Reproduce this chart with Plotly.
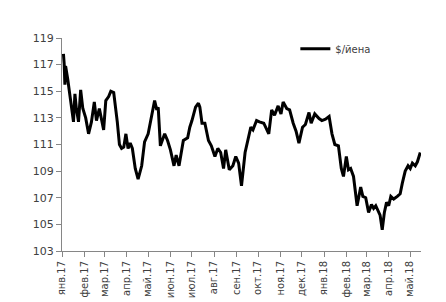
import plotly.graph_objects as go

dates = [
    "2017-01-03", "2017-01-04", "2017-01-05", "2017-01-06", "2017-01-09", "2017-01-12",
    "2017-01-17", "2017-01-19", "2017-01-21", "2017-01-24", "2017-01-27", "2017-01-30",
    "2017-02-03", "2017-02-07", "2017-02-11", "2017-02-15", "2017-02-18", "2017-02-22",
    "2017-02-28", "2017-03-03", "2017-03-07", "2017-03-10", "2017-03-14", "2017-03-19",
    "2017-03-22", "2017-03-25", "2017-03-28", "2017-03-31", "2017-04-03", "2017-04-06",
    "2017-04-09", "2017-04-13", "2017-04-17", "2017-04-22", "2017-04-26", "2017-05-01",
    "2017-05-05", "2017-05-10", "2017-05-13", "2017-05-15", "2017-05-18", "2017-05-24",
    "2017-05-28", "2017-06-01", "2017-06-06", "2017-06-09", "2017-06-13", "2017-06-19",
    "2017-06-25", "2017-06-28", "2017-07-01", "2017-07-06", "2017-07-10", "2017-07-12",
    "2017-07-15", "2017-07-19", "2017-07-24", "2017-07-28", "2017-08-02", "2017-08-06",
    "2017-08-10", "2017-08-14", "2017-08-17", "2017-08-22", "2017-08-27", "2017-08-31",
    "2017-09-04", "2017-09-08", "2017-09-13", "2017-09-17", "2017-09-21", "2017-09-24",
    "2017-09-29", "2017-10-03", "2017-10-09", "2017-10-16", "2017-10-20", "2017-10-24",
    "2017-10-29", "2017-11-02", "2017-11-05", "2017-11-10", "2017-11-14", "2017-11-19",
    "2017-11-23", "2017-11-27", "2017-12-02", "2017-12-06", "2017-12-11", "2017-12-14",
    "2017-12-19", "2017-12-25", "2017-12-29", "2018-01-03", "2018-01-08", "2018-01-12",
    "2018-01-16", "2018-01-21", "2018-01-25", "2018-01-28", "2018-02-01", "2018-02-04",
    "2018-02-07", "2018-02-11", "2018-02-16", "2018-02-21", "2018-02-24", "2018-02-28",
    "2018-03-04", "2018-03-08", "2018-03-11", "2018-03-14", "2018-03-18", "2018-03-20",
    "2018-03-23", "2018-03-26", "2018-03-29", "2018-04-01", "2018-04-04", "2018-04-08",
    "2018-04-13", "2018-04-17", "2018-04-20", "2018-04-24", "2018-04-28", "2018-05-01",
    "2018-05-04", "2018-05-08", "2018-05-11", "2018-05-15",
]
usd_jpy = [
    117.8, 117.1, 115.5, 116.9, 115.9, 114.6,
    112.7, 114.8, 113.7, 112.7, 115.1, 113.7,
    113.0, 111.8, 112.7, 114.2, 112.8, 113.7,
    112.1, 114.3, 114.6, 115.0, 114.9, 112.7,
    111.0, 110.7, 110.8, 111.8, 110.7, 111.1,
    110.7, 109.2, 108.4, 109.4, 111.2, 111.8,
    112.8, 114.3, 113.6, 113.8, 110.9, 111.8,
    111.3, 110.6, 109.4, 110.2, 109.4, 111.3,
    111.5, 112.3, 112.8, 113.8, 114.1, 113.8,
    112.6, 112.6, 111.3, 110.9, 110.1, 110.7,
    110.4, 109.2, 110.6, 109.1, 109.4, 110.1,
    109.6, 107.9, 110.4, 111.3, 112.3, 112.1,
    112.8, 112.7, 112.6, 111.8, 113.6, 113.2,
    113.9, 113.3, 114.2, 113.7, 113.6, 112.6,
    112.0, 111.1, 112.3, 112.5, 113.4, 112.6,
    113.3, 112.95, 112.8, 112.9, 113.1, 111.8,
    111.0, 110.9, 109.2, 108.6, 110.1, 109.1,
    109.2, 108.6, 106.4, 107.8, 107.1, 107.0,
    105.9, 106.5, 106.2, 106.4, 105.9, 105.7,
    104.6, 105.9, 106.65, 106.4, 107.1, 106.9,
    107.1, 107.3, 108.1, 109.0, 109.4, 109.2,
    109.6, 109.4, 109.7, 110.4,
]

tick_dates = [
    "2017-01-01", "2017-02-01", "2017-03-01", "2017-04-01", "2017-05-01", "2017-06-01",
    "2017-07-01", "2017-08-01", "2017-09-01", "2017-10-01", "2017-11-01", "2017-12-01",
    "2018-01-01", "2018-02-01", "2018-03-01", "2018-04-01", "2018-05-01",
]
tick_labels = [
    "янв.17", "фев.17", "мар.17", "апр.17", "май.17", "июн.17",
    "июл.17", "авг.17", "сен.17", "окт.17", "ноя.17", "дек.17",
    "янв.18", "фев.18", "мар.18", "апр.18", "май.18",
]
y_ticks = [103, 105, 107, 109, 111, 113, 115, 117, 119]

fig = go.Figure()
fig.add_trace(go.Scatter(
    x=dates, y=usd_jpy, mode="lines", name="$/йена",
    line=dict(color="black", width=3),
))

axis_color = "#868686"
font_color = "#404040"

fig.update_layout(
    width=446, height=302,
    margin=dict(l=54, r=33, t=30, b=54),
    paper_bgcolor="white", plot_bgcolor="white",
    font=dict(family="DejaVu Sans", size=10, color=font_color),
    showlegend=True,
    legend=dict(
        x=0.65, y=0.95, xanchor="left", yanchor="middle",
        bgcolor="rgba(0,0,0,0)", font=dict(size=10, color=font_color),
        itemwidth=30,
    ),
    xaxis=dict(
        type="date",
        range=["2017-01-01", "2018-05-16"],
        tickvals=tick_dates, ticktext=tick_labels, tickangle=-90,
        ticks="outside", ticklen=5, tickcolor=axis_color,
        showline=True, linecolor=axis_color, linewidth=1,
        showgrid=False, zeroline=False,
        tickfont=dict(size=10, color=font_color),
    ),
    yaxis=dict(
        range=[103, 119],
        tickvals=y_ticks,
        ticks="outside", ticklen=5, tickcolor=axis_color,
        showline=True, linecolor=axis_color, linewidth=1,
        showgrid=False, zeroline=False,
        tickfont=dict(size=11, color=font_color),
    ),
)

fig.write_html("out.html")
